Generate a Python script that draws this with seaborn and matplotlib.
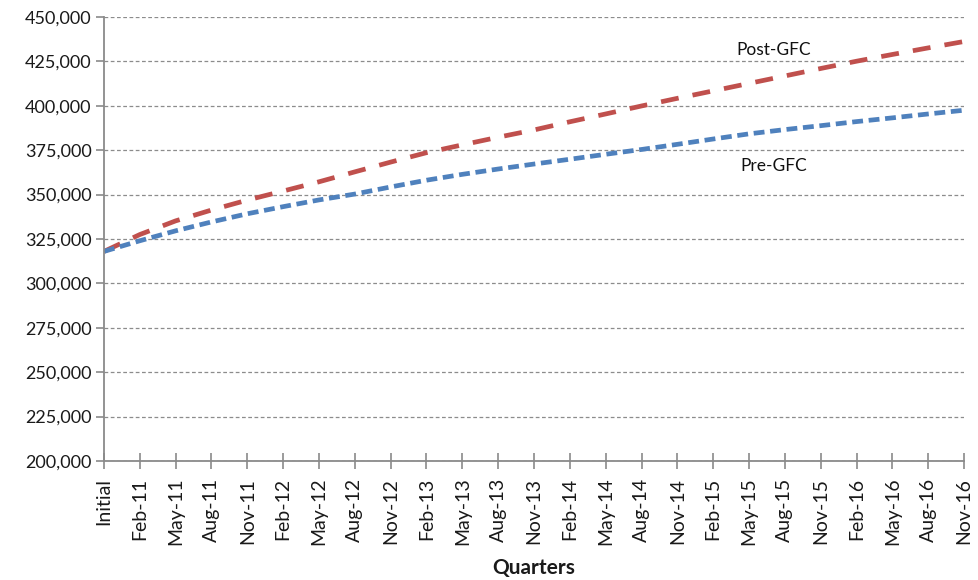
import numpy as np
import pandas as pd
import matplotlib
matplotlib.use("Agg")
import matplotlib.pyplot as plt
import seaborn as sns
from matplotlib.ticker import FuncFormatter, MultipleLocator

# Quarter labels on the x axis
quarters = ["Initial",
            "Feb-11", "May-11", "Aug-11", "Nov-11",
            "Feb-12", "May-12", "Aug-12", "Nov-12",
            "Feb-13", "May-13", "Aug-13", "Nov-13",
            "Feb-14", "May-14", "Aug-14", "Nov-14",
            "Feb-15", "May-15", "Aug-15", "Nov-15",
            "Feb-16", "May-16", "Aug-16", "Nov-16"]

# Projected values for each scenario
post_gfc = [318000, 327500, 335200, 341300, 346900, 352000, 357200, 362800,
            368300, 373600, 378000, 382300, 386400, 391000, 395400, 399900,
            404200, 408400, 412600, 416800, 421000, 425100, 428900, 432600,
            436200]
pre_gfc = [318000, 324000, 329600, 334600, 339200, 343200, 347000, 350300,
           354300, 358100, 361400, 364400, 367200, 369900, 372700, 375400,
           378300, 381300, 384200, 386600, 388800, 391100, 393200, 395400,
           397500]

colors = {"Post-GFC": "#C0504D", "Pre-GFC": "#4F81BD"}

pos = np.arange(len(quarters))
df = pd.DataFrame({
    "pos": np.concatenate([pos, pos]),
    "value": post_gfc + pre_gfc,
    "series": ["Post-GFC"] * len(pos) + ["Pre-GFC"] * len(pos),
})

sns.set_theme(style="white")
plt.rcParams["font.family"] = ["Lato", "DejaVu Sans"]

fig = plt.figure(figsize=(9.79, 5.8), dpi=100)
ax = fig.add_axes([0.1062, 0.2052, 0.8785, 0.7655])

sns.lineplot(data=df, x="pos", y="value", hue="series", style="series",
             palette=colors, dashes={"Post-GFC": (3.8, 3.0), "Pre-GFC": (2.3, 1.2)},
             linewidth=3.4, legend=False, ax=ax)

ax.set_xlim(0, len(quarters) - 1)
ax.set_ylim(200000, 450000)
ax.yaxis.set_major_locator(MultipleLocator(25000))
ax.yaxis.set_major_formatter(FuncFormatter(lambda v, _: f"{int(v):,}"))
ax.set_xticks(pos)
ax.set_xticklabels(quarters, rotation=90)

ax.grid(axis="y", color="#8c8c8c", linestyle=(0, (3, 2)), linewidth=0.9)
ax.grid(axis="x", visible=False)
ax.set_axisbelow(True)

for side in ["top", "right"]:
    ax.spines[side].set_visible(False)
for side in ["left", "bottom"]:
    ax.spines[side].set_color("#8a8a8a")
    ax.spines[side].set_linewidth(1.3)

ax.tick_params(axis="y", direction="out", length=6, width=1.2, color="#8a8a8a",
               labelsize=13, labelcolor="#1a1a1a", pad=3, left=True)
ax.tick_params(axis="x", direction="inout", length=12, width=1.2, color="#8a8a8a",
               labelsize=14, labelcolor="#1a1a1a", pad=6, bottom=True)

ax.set_xlabel("Quarters", fontsize=15, fontweight="bold", color="#1a1a1a", labelpad=9)
ax.set_ylabel("")

# Series labels placed next to the lines
ax.text(18.7, 431400, "Post-GFC", fontsize=12.5, color="#111111",
        ha="center", va="center")
ax.text(18.7, 366300, "Pre-GFC", fontsize=12.5, color="#111111",
        ha="center", va="center")

fig.savefig("out.png", dpi=100)
